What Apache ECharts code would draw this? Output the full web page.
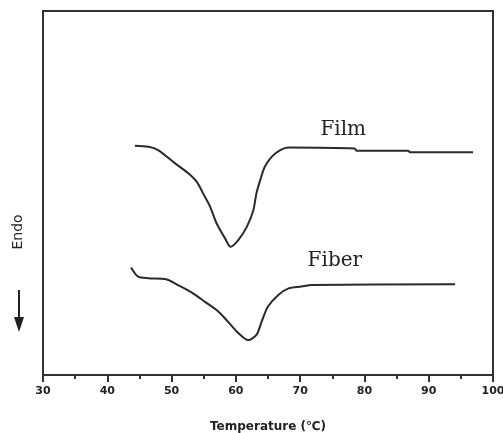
<!DOCTYPE html>
<html>
<head>
<meta charset="utf-8">
<script src="https://cdn.jsdelivr.net/npm/echarts@6/dist/echarts.min.js"></script>
<style>
  html, body { margin: 0; padding: 0; background: #fff; }
  #chart { width: 503px; height: 433px; }
</style>
</head>
<body>
<div id="chart"></div>
<script>
// DSC curves (y in arbitrary heat flow units, 0-100)
const filmTemp = [44.3, 46.4, 47.9, 50.5, 52.6, 53.9, 54.9, 56.0, 57.0, 58.3, 59.2, 60.4, 61.7, 62.7, 63.2, 63.8, 64.5, 65.6, 66.9, 68.2, 78.5, 78.8, 86.8, 87.1, 96.9];
const filmFlow = [63.0, 62.7, 61.8, 58.2, 55.4, 53.1, 49.9, 46.2, 41.7, 37.6, 35.2, 37.1, 40.7, 45.1, 49.9, 53.6, 57.2, 60.0, 61.8, 62.5, 62.2, 61.6, 61.6, 61.2, 61.2];

const fiberTemp = [43.7, 44.8, 46.4, 49.0, 51.0, 53.1, 55.2, 57.3, 58.8, 60.4, 61.9, 63.2, 64.0, 65.0, 66.6, 68.2, 70.2, 71.8, 94.1];
const fiberFlow = [29.5, 27.0, 26.6, 26.4, 24.7, 22.7, 20.1, 17.4, 14.6, 11.5, 9.6, 11.0, 14.6, 18.8, 22.0, 23.8, 24.3, 24.7, 24.9];

const xTicks = [30, 40, 50, 60, 70, 80, 90, 100];

// label anchor positions (data coords)
const filmLabelAt = [76.7, 67.3];
const fiberLabelAt = [75.4, 31.3];

const chart = echarts.init(document.getElementById('chart'));

const toPairs = (xs, ys) => xs.map((x, i) => [x, ys[i]]);

const lineStyle = { color: '#2a2a2a', width: 2 };

const labelStyle = {
    show: true,
    position: 'inside',
    fontFamily: 'DejaVu Serif',
    fontSize: 20,
    color: '#222',
    formatter: p => p.name
};

let option = {
    animation: false,
    grid: {
        left: 43,
        right: 10,
        top: 11,
        bottom: 58,
        outerBoundsMode: 'none',
        show: true,
        borderColor: '#333',
        borderWidth: 2
    },
    xAxis: {
        type: 'value',
        min: xTicks[0],
        max: xTicks[xTicks.length - 1],
        interval: 10,
        name: 'Temperature (℃)',
        nameLocation: 'middle',
        nameGap: 46,
        nameTextStyle: { fontFamily: 'DejaVu Sans', fontSize: 12, fontWeight: 'bold', color: '#222' },
        axisLine: { show: true, lineStyle: { color: '#333', width: 2 } },
        axisTick: { show: true, length: 7, lineStyle: { color: '#333', width: 2 } },
        minorTick: { show: true, splitNumber: 2, length: 4, lineStyle: { color: '#333', width: 2 } },
        axisLabel: {
            margin: 11,
            fontFamily: 'DejaVu Sans',
            fontSize: 11,
            fontWeight: 'bold',
            color: '#222'
        },
        splitLine: { show: false }
    },
    yAxis: {
        type: 'value',
        min: 0,
        max: 100,
        axisLine: { show: false },
        axisTick: { show: false },
        axisLabel: { show: false },
        splitLine: { show: false }
    },
    series: [
        {
            name: 'Film',
            type: 'line',
            data: toPairs(filmTemp, filmFlow),
            showSymbol: false,
            smooth: 0.3,
            lineStyle: lineStyle,
            markPoint: {
                symbol: 'circle',
                symbolSize: 0,
                label: labelStyle,
                data: [{ name: 'Film', coord: filmLabelAt }]
            }
        },
        {
            name: 'Fiber',
            type: 'line',
            data: toPairs(fiberTemp, fiberFlow),
            showSymbol: false,
            smooth: 0.3,
            lineStyle: lineStyle,
            markPoint: {
                symbol: 'circle',
                symbolSize: 0,
                label: labelStyle,
                data: [{ name: 'Fiber', coord: fiberLabelAt }]
            }
        }
    ],
    graphic: [
        {
            type: 'text',
            x: 18,
            y: 232,
            rotation: Math.PI / 2,
            style: {
                text: 'Endo',
                font: '14px DejaVu Sans',
                fill: '#222',
                align: 'center',
                verticalAlign: 'middle'
            }
        },
        {
            type: 'line',
            shape: { x1: 19, y1: 290, x2: 19, y2: 320 },
            style: { stroke: '#222', lineWidth: 2 }
        },
        {
            type: 'polygon',
            shape: { points: [[14, 317], [24, 317], [19, 332]] },
            style: { fill: '#222' }
        }
    ]
};

chart.setOption(option);
</script>
</body>
</html>
